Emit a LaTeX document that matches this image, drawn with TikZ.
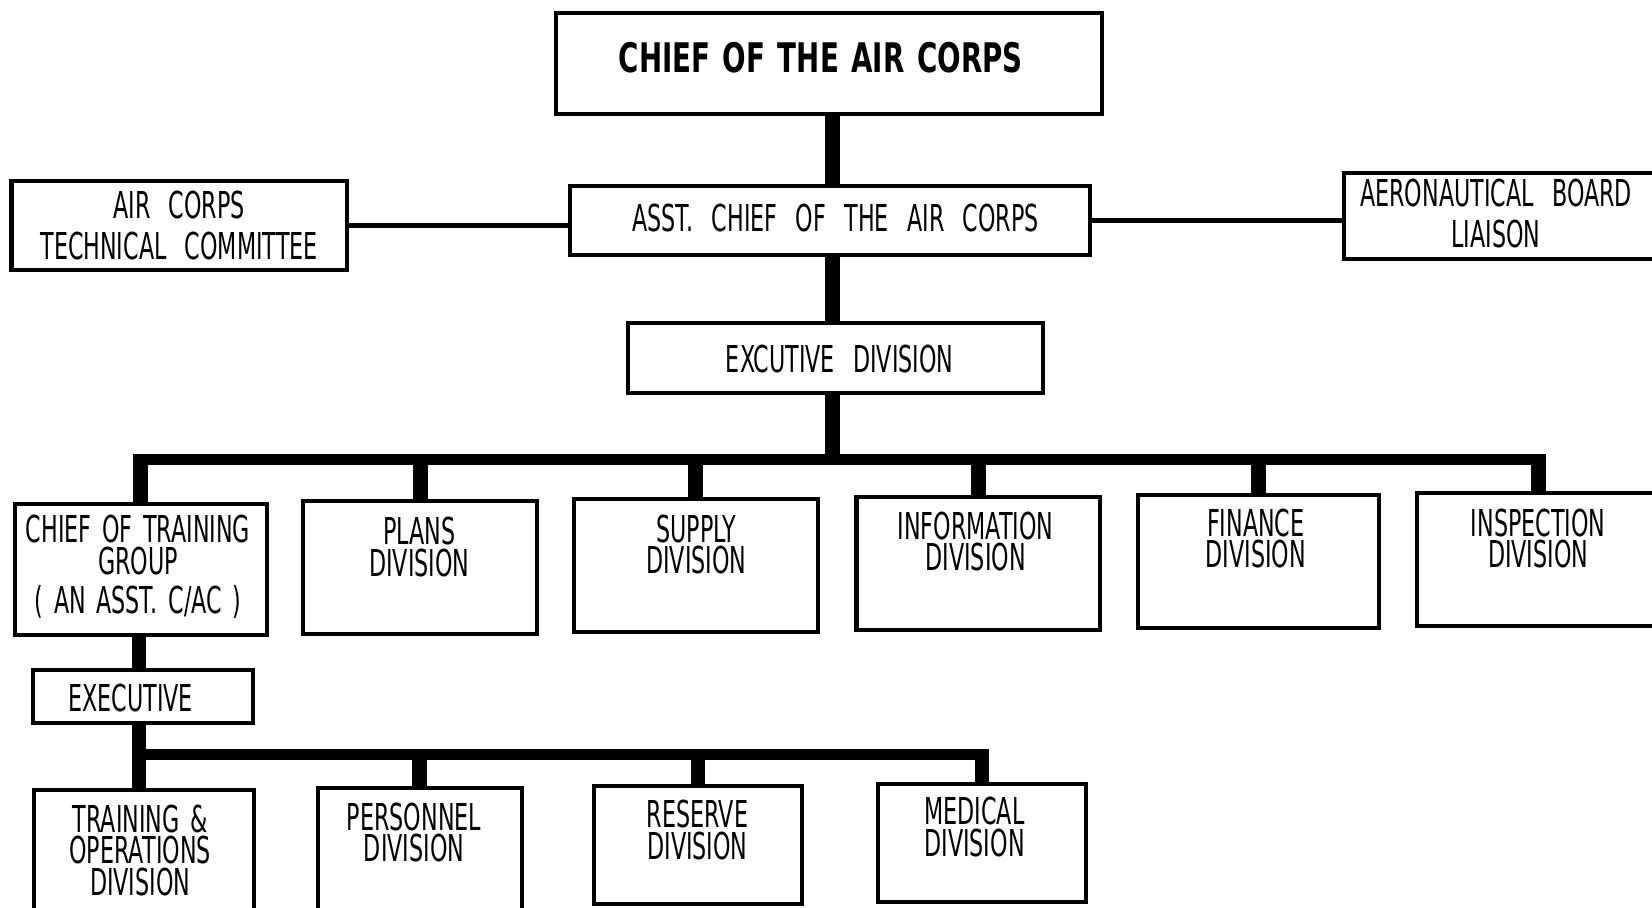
\documentclass[tikz,border=0pt]{standalone}
\usepackage{fontspec}
\setmainfont[FakeStretch=0.6,WordSpace=2.6]{DejaVu Sans}
\newfontfamily\ttlfont[FakeStretch=0.68,WordSpace=1.3]{DejaVu Sans}
\newfontfamily\ctgfont[FakeStretch=0.6,WordSpace=1.5]{DejaVu Sans}
\begin{document}
\begin{tikzpicture}[x=0.01cm,y=-0.01cm,
  box/.style={draw=black, line width=1.1pt, rectangle, inner sep=0pt},
  lbl/.style={font=\fontsize{10}{8.5}\selectfont, align=center, inner sep=0pt},
  ttl/.style={font=\ttlfont\fontsize{11}{13}\selectfont\bfseries, inner sep=0pt},
  stem/.style={line width=4pt},
  busline/.style={line width=2.8pt},
  link/.style={line width=1.4pt}]
\clip (0,0) rectangle (1568,861);
\fill[white] (0,0) rectangle (1568,861);
% coordinates for stems and buses
\coordinate (mainx) at (790,0);
\coordinate (bus1) at (790,436);
\coordinate (subx) at (132,0);
\coordinate (bus2) at (132,716);
% boxes
\node[box, minimum width=5.18cm, minimum height=0.96cm] (chief) at (787,60) {};
\node[box, minimum width=4.93cm, minimum height=0.65cm] (asst) at (787.5,209.5) {};
\node[box, minimum width=3.18cm, minimum height=0.84cm] (actc) at (170,214) {};
\node[box, minimum width=2.99cm, minimum height=0.82cm] (aero) at (1425.5,205) {};
\node[box, minimum width=3.94cm, minimum height=0.66cm] (execdiv) at (793,340) {};
\node[box, minimum width=2.39cm, minimum height=1.25cm] (ctg) at (133.5,540.5) {};
\node[box, minimum width=2.22cm, minimum height=1.26cm] (plans) at (399,539) {};
\node[box, minimum width=2.31cm, minimum height=1.26cm] (supply) at (660.5,537) {};
\node[box, minimum width=2.31cm, minimum height=1.26cm] (info) at (928.5,535) {};
\node[box, minimum width=2.29cm, minimum height=1.26cm] (finance) at (1194.5,533) {};
\node[box, minimum width=2.30cm, minimum height=1.26cm] (insp) at (1460,531) {};
\node[box, minimum width=2.09cm, minimum height=0.50cm] (executive) at (135.5,661) {};
\node[box, minimum width=2.09cm, minimum height=1.25cm] (trops) at (136.5,812.5) {};
\node[box, minimum width=1.93cm, minimum height=1.27cm] (personnel) at (398.5,811.5) {};
\node[box, minimum width=1.97cm, minimum height=1.12cm] (reserve) at (662.5,802) {};
\node[box, minimum width=1.98cm, minimum height=1.12cm] (medical) at (932,800) {};
% texts
\node[ttl] (chiefT) at (779,55) {CHIEF OF THE AIR CORPS};
\node[lbl] (asstT) at (793,207) {ASST. CHIEF OF THE AIR CORPS};
\node[lbl] (actcT) at (170,214) {AIR CORPS\\[2.5pt]TECHNICAL COMMITTEE};
\node[lbl] (aeroT) at (1420,203) {AERONAUTICAL BOARD\\[2.5pt]LIAISON};
\node[lbl] (execdivT) at (797,341) {EXCUTIVE DIVISION};
\node[lbl, font=\ctgfont\fontsize{10}{8.5}\selectfont] (ctgT) at (131,538) {CHIEF OF TRAINING\\GROUP\\[2pt]( AN ASST. C/AC )};
\node[lbl] (plansT) at (398,519) {PLANS\\DIVISION};
\node[lbl] (supplyT) at (661,517) {SUPPLY\\DIVISION};
\node[lbl] (infoT) at (926,514) {INFORMATION\\DIVISION};
\node[lbl] (financeT) at (1192,511) {FINANCE\\DIVISION};
\node[lbl] (inspT) at (1460,511) {INSPECTION\\DIVISION};
\node[lbl] (executiveT) at (124,663) {EXECUTIVE};
\node[lbl, font=\ctgfont\fontsize{10}{8.5}\selectfont] (tropsT) at (133,807) {TRAINING \&\\OPERATIONS\\DIVISION};
\node[lbl] (personnelT) at (393,790) {PERSONNEL\\DIVISION};
\node[lbl] (reserveT) at (662,788) {RESERVE\\DIVISION};
\node[lbl] (medicalT) at (925,785) {MEDICAL\\DIVISION};
% connectors
\draw[stem] (chief.south -| mainx) -- (asst.north -| mainx);
\draw[link] (actc.east) -- (actc.east -| asst.west);
\draw[link] (asst.east) -- (asst.east -| aero.west);
\draw[stem] (asst.south -| mainx) -- (execdiv.north -| mainx);
\draw[stem] (execdiv.south -| mainx) -- (bus1);
\draw[busline] ([xshift=-0.07cm]ctg.north |- bus1) -- ([xshift=0.07cm]insp.north |- bus1);
\foreach \n in {ctg,plans,supply,info,finance,insp}
  \draw[stem] ([yshift=0.05cm]\n.north |- bus1) -- (\n.north);
\draw[stem] (ctg.south -| subx) -- (executive.north -| subx);
\draw[stem] (executive.south -| subx) -- ([yshift=-0.05cm]bus2);
\draw[busline] ([xshift=-0.07cm]bus2) -- ([xshift=0.07cm]medical.north |- bus2);
\draw[stem] (bus2) -- (trops.north -| subx);
\foreach \n in {personnel,reserve,medical}
  \draw[stem] ([yshift=0.05cm]\n.north |- bus2) -- (\n.north);
\end{tikzpicture}
\end{document}
